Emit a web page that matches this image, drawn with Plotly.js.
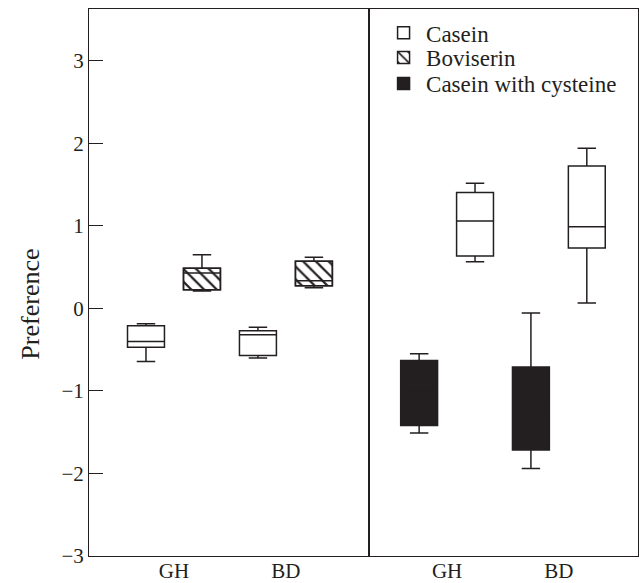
<!DOCTYPE html>
<html>
<head>
<meta charset="utf-8">
<script src="https://cdn.plot.ly/plotly-3.0.1.min.js"></script>
<style>html,body{margin:0;padding:0;background:#fff;}#chart{width:642px;height:583px;}</style>
</head>
<body>
<div id="chart"></div>
<script>
// Categories
var categories = ['GH', 'BD'];

// Casein (left panel)
var caseinL_q1 = [-0.47, -0.57];
var caseinL_med = [-0.40, -0.32];
var caseinL_q3 = [-0.21, -0.27];
var caseinL_lo = [-0.645, -0.60];
var caseinL_hi = [-0.185, -0.23];

// Boviserin (left panel)
var bovi_q1 = [0.225, 0.275];
var bovi_med = [0.43, 0.335];
var bovi_q3 = [0.485, 0.57];
var bovi_lo = [0.21, 0.25];
var bovi_hi = [0.65, 0.62];

// Casein with cysteine (right panel)
var cys_q1 = [-1.42, -1.715];
var cys_med = [-1.0, -1.2];
var cys_q3 = [-0.63, -0.71];
var cys_lo = [-1.51, -1.94];
var cys_hi = [-0.55, -0.055];

// Casein (right panel)
var caseinR_q1 = [0.635, 0.73];
var caseinR_med = [1.06, 0.99];
var caseinR_q3 = [1.405, 1.725];
var caseinR_lo = [0.565, 0.065];
var caseinR_hi = [1.515, 1.94];

var yTicks = [-3, -2, -1, 0, 1, 2, 3];

var ink = '#231f20';
var serif = 'Liberation Serif, Times New Roman, serif';

function boxTrace(name, q1, med, q3, lo, hi, fill, xa, ya, ag, og, leg) {
  return {
    type: 'box', name: name, x: categories,
    q1: q1, median: med, q3: q3, lowerfence: lo, upperfence: hi,
    fillcolor: fill, line: {color: ink, width: 1.5},
    whiskerwidth: 0.5, boxpoints: false,
    xaxis: xa, yaxis: ya, alignmentgroup: ag, offsetgroup: og,
    showlegend: !!leg, legend: leg || 'legend', legendgroup: name, hoverinfo: 'skip'
  };
}

var boviHeight = bovi_q3.map(function(v, i) { return v - bovi_q1[i]; });

var traces = [
  boxTrace('Casein', caseinL_q1, caseinL_med, caseinL_q3, caseinL_lo, caseinL_hi, '#ffffff', 'x', 'y', 'L', 'a', 'legend'),
  {
    type: 'bar', name: 'Boviserin', x: categories, y: boviHeight, base: bovi_q1,
    width: 0.33, offset: 0.085,
    marker: {color: '#ffffff', line: {color: ink, width: 1.5},
      pattern: {shape: '\\', fgcolor: ink, bgcolor: '#ffffff', size: 9, solidity: 0.25}},
    xaxis: 'x', yaxis: 'y', showlegend: true, legend: 'legend2', legendgroup: 'Boviserin', hoverinfo: 'skip'
  },
  boxTrace('Boviserin', bovi_q1, bovi_med, bovi_q3, bovi_lo, bovi_hi, 'rgba(0,0,0,0)', 'x', 'y', 'L', 'b', null),
  boxTrace('Casein with cysteine', cys_q1, cys_med, cys_q3, cys_lo, cys_hi, ink, 'x2', 'y2', 'R', 'a', 'legend3'),
  boxTrace('Casein', caseinR_q1, caseinR_med, caseinR_q3, caseinR_lo, caseinR_hi, '#ffffff', 'x2', 'y2', 'R', 'b', null)
];

var axFont = {family: serif, size: 21, color: ink};

function legendAt(y) {
  return {
    x: 0.532, y: y, xanchor: 'left', yanchor: 'top', itemwidth: 35,
    bgcolor: 'rgba(0,0,0,0)', borderwidth: 0,
    font: {family: serif, size: 23, color: ink}, tracegroupgap: 0
  };
}

var layout = {
  width: 642, height: 583,
  margin: {l: 89, r: 4, t: 9, b: 27, pad: 0},
  paper_bgcolor: '#ffffff', plot_bgcolor: '#ffffff',
  boxmode: 'group', boxgap: 0, boxgroupgap: 0.34,
  barmode: 'overlay',
  font: {family: serif, color: ink},
  xaxis: {
    domain: [0, 0.5096], type: 'category', categoryarray: categories, categoryorder: 'array',
    range: [-0.759, 1.740], showline: true, mirror: true, linecolor: ink, linewidth: 1,
    ticks: '', showgrid: false, zeroline: false, tickfont: axFont, ticklabelstandoff: -4,
    anchor: 'y', fixedrange: true
  },
  xaxis2: {
    domain: [0.5096, 1], type: 'category', categoryarray: categories, categoryorder: 'array',
    range: [-0.7006, 1.708], showline: true, mirror: true, linecolor: ink, linewidth: 1,
    ticks: '', showgrid: false, zeroline: false, tickfont: axFont, ticklabelstandoff: -4,
    anchor: 'y2', fixedrange: true
  },
  yaxis: {
    range: [-3, 3.627], tickvals: yTicks, ticks: 'inside', ticklen: 14, tickcolor: ink, tickwidth: 1,
    showline: true, mirror: true, linecolor: ink, linewidth: 1, showgrid: false, zeroline: false,
    tickfont: axFont, anchor: 'x', fixedrange: true
  },
  yaxis2: {
    range: [-3, 3.627], matches: 'y', showline: true, mirror: true, linecolor: ink, linewidth: 1,
    showgrid: false, zeroline: false, ticks: '', showticklabels: false, anchor: 'x2', fixedrange: true
  },
  legend: legendAt(0.996),
  legend2: legendAt(0.9506),
  legend3: legendAt(0.9031),
  annotations: [{
    text: 'Preference', textangle: -90, xref: 'paper', yref: 'paper',
    x: -0.107, y: 0.46, xanchor: 'center', yanchor: 'middle', showarrow: false,
    font: {family: serif, size: 26, color: ink}
  }]
};

Plotly.newPlot('chart', traces, layout, {staticPlot: true, displayModeBar: false});
</script>
</body>
</html>
